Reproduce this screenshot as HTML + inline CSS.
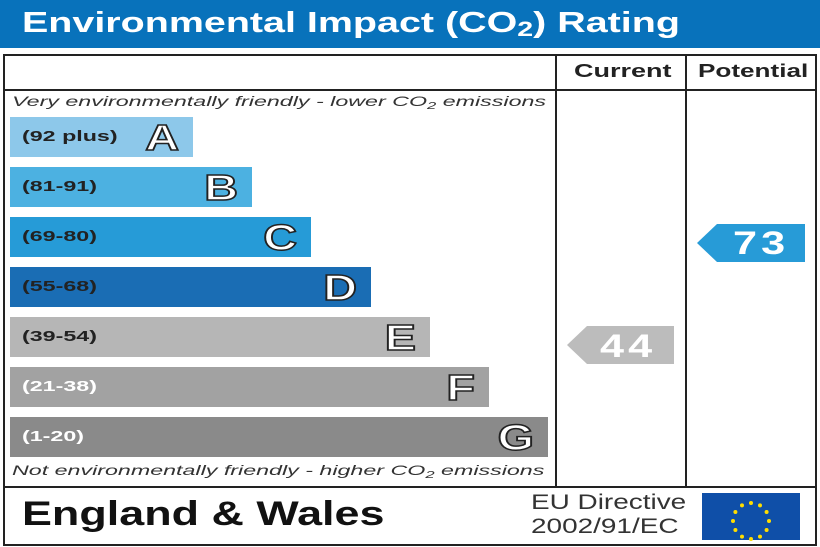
<!DOCTYPE html>
<html><head><style>
body{margin:0;width:820px;height:547px;background:#fff;position:relative;overflow:hidden;font-family:"Liberation Sans",sans-serif}
.a{position:absolute;white-space:nowrap}
.bar{position:absolute;left:10px;height:40px}
.bar .r{position:absolute;left:12px;top:11px;font-size:15px;font-weight:bold;color:#222;transform:scaleX(1.55);transform-origin:left}
.bar .l{position:absolute;right:14px;top:0px;font-size:36px;font-weight:bold;color:#fff;-webkit-text-stroke:1.5px #222;transform:scaleX(1.3);transform-origin:right}
.it{position:absolute;left:12px;font-size:14px;font-style:italic;color:#333;transform:scaleX(1.66);transform-origin:left;white-space:nowrap}
</style></head><body>
<div class="a" style="left:0;top:0;width:820px;height:48px;background:#0872bb"></div>
<div class="a" style="left:22px;top:7px;font-size:29px;font-weight:bold;color:#fff;transform:scaleX(1.36);transform-origin:left">Environmental Impact (CO<span style="font-size:21px;position:relative;top:4px">2</span>) Rating</div>
<div class="a" style="left:3px;top:54px;width:810px;height:488px;border:2px solid #222"></div>
<div class="a" style="left:3px;top:89px;width:814px;height:2px;background:#222"></div>
<div class="a" style="left:3px;top:486px;width:814px;height:2px;background:#222"></div>
<div class="a" style="left:555px;top:54px;width:2px;height:434px;background:#222"></div>
<div class="a" style="left:685px;top:54px;width:2px;height:434px;background:#222"></div>
<div class="a" style="left:574px;top:61px;font-size:18px;font-weight:bold;color:#222;transform:scaleX(1.5);transform-origin:left">Current</div>
<div class="a" style="left:698px;top:61px;font-size:18px;font-weight:bold;color:#222;transform:scaleX(1.45);transform-origin:left">Potential</div>
<div class="it" style="top:93px">Very environmentally friendly - lower CO<span style="font-size:10px;position:relative;top:3px">2</span> emissions</div>
<div class="bar" style="top:117px;width:183px;background:#8dc8ea"><span class="r">(92 plus)</span><span class="l">A</span></div>
<div class="bar" style="top:167px;width:242px;background:#4cb1e1"><span class="r">(81-91)</span><span class="l">B</span></div>
<div class="bar" style="top:217px;width:301px;background:#269bd7"><span class="r">(69-80)</span><span class="l">C</span></div>
<div class="bar" style="top:267px;width:361px;background:#1a6db4"><span class="r">(55-68)</span><span class="l">D</span></div>
<div class="bar" style="top:317px;width:420px;background:#b6b6b6"><span class="r">(39-54)</span><span class="l">E</span></div>
<div class="bar" style="top:367px;width:479px;background:#a2a2a2"><span class="r" style="color:#fff">(21-38)</span><span class="l">F</span></div>
<div class="bar" style="top:417px;width:538px;background:#8a8a8a"><span class="r" style="color:#fff">(1-20)</span><span class="l">G</span></div>
<div class="it" style="top:462px">Not environmentally friendly - higher CO<span style="font-size:10px;position:relative;top:3px">2</span> emissions</div>
<svg class="a" style="left:0;top:0" width="820" height="547">
<polygon points="567,345 587,326 674,326 674,364 587,364" fill="#bcbcbc"/>
<polygon points="697,243 717,224 805,224 805,262 717,262" fill="#279bd7"/>
<rect x="702" y="493" width="98" height="47" fill="#0f4fa8"/>
<g fill="#ffdd00">
<circle cx="751" cy="503" r="2"/><circle cx="760" cy="505.4" r="2"/><circle cx="766.6" cy="512" r="2"/><circle cx="769" cy="521" r="2"/><circle cx="766.6" cy="530" r="2"/><circle cx="760" cy="536.6" r="2"/><circle cx="751" cy="539" r="2"/><circle cx="742" cy="536.6" r="2"/><circle cx="735.4" cy="530" r="2"/><circle cx="733" cy="521" r="2"/><circle cx="735.4" cy="512" r="2"/><circle cx="742" cy="505.4" r="2"/>
</g>
</svg>
<div class="a" style="left:600px;top:328px;font-size:32px;font-weight:bold;color:#fff;letter-spacing:3px;transform:scaleX(1.35);transform-origin:left">44</div>
<div class="a" style="left:733px;top:225px;font-size:32px;font-weight:bold;color:#fff;letter-spacing:3px;transform:scaleX(1.35);transform-origin:left">73</div>
<div class="a" style="left:22px;top:495px;font-size:34px;font-weight:bold;color:#111;transform:scaleX(1.32);transform-origin:left">England &amp; Wales</div>
<div class="a" style="left:531px;top:491px;font-size:21px;color:#333;line-height:24px;transform:scaleX(1.33);transform-origin:left">EU Directive<br>2002/91/EC</div>
</body></html>
